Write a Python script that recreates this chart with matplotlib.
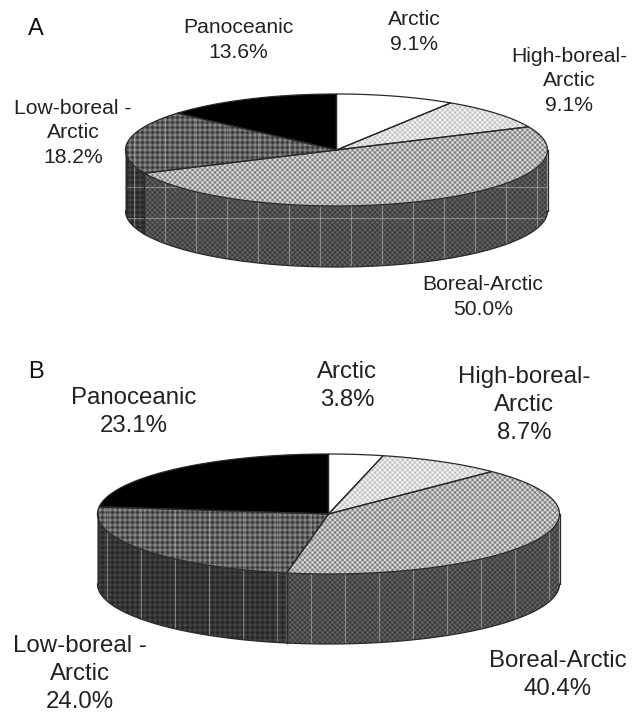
# Two 3D style pie charts drawn by hand, matplotlib has no pie with depth
import numpy as np
import matplotlib
matplotlib.use('Agg')
import matplotlib.pyplot as plt
from matplotlib.patches import Polygon

plt.rcParams['font.family'] = ['Liberation Sans', 'DejaVu Sans']

# Data
categories = ['Arctic', 'High-boreal-\nArctic', 'Boreal-Arctic', 'Low-boreal -\nArctic', 'Panoceanic']
values_a = [9.1, 9.1, 50.0, 18.2, 13.6]
values_b = [3.8, 8.7, 40.4, 24.0, 23.1]

# Label positions, in pixels
label_pos_a = [(414, 32), (569, 81), (483, 297), (73, 133), (238, 40)]
label_pos_b = [(347, 386), (524, 405), (558, 675), (80, 674), (134, 412)]

# Dither settings: mean grey, amplitude, pixels per period, kind
top_fill = [(1.0, 0.0, 5, 'c'), (0.86, 0.14, 5, 'c'), (0.68, 0.24, 5, 'c'),
            (0.38, 0.20, 5, 'g'), (0.0, 0.0, 5, 'c')]
side_fill = [(1.0, 0.0, 5, 'c'), (0.84, 0.13, 5, 'c'), (0.31, 0.10, 5, 'c'),
             (0.21, 0.08, 5, 'g'), (0.1, 0.0, 5, 'c')]

W, H = 638, 713
fig = plt.figure(figsize=(W / 100, H / 100), dpi=100)
ax = fig.add_axes([0, 0, 1, 1])
ax.set_xlim(0, W)
ax.set_ylim(H, 0)
ax.axis('off')

yy, xx = np.mgrid[0:H, 0:W] + 0.5


def dither(mean, amp, period, kind):
    # Returns a full size grey image with the screen pattern
    if kind == 'g':
        pat = (np.cos(2 * np.pi * xx / period) + np.cos(2 * np.pi * yy / period)) / 2
    else:
        pat = np.cos(2 * np.pi * xx / period) * np.cos(2 * np.pi * yy / period)
    return np.clip(mean + amp * pat, 0, 1)


def fill(poly, setting, zorder):
    im = ax.imshow(dither(*setting), cmap='gray', vmin=0, vmax=1, extent=(0, W, H, 0),
                   interpolation='bilinear', zorder=zorder, aspect='auto')
    patch = Polygon(poly, closed=True, facecolor='none', edgecolor='none', transform=ax.transData)
    ax.add_patch(patch)
    im.set_clip_path(patch)


def draw_pie(values, cx, cy, a, b, depth, grid_x, grid_y, labels_xy, size):
    edges = np.cumsum([0] + values) / sum(values) * 2 * np.pi
    edge_line = dict(color='#2a2a2a', lw=0.9, zorder=6)

    for i, val in enumerate(values):
        t = np.linspace(edges[i], edges[i + 1], 120)
        x = cx + a * np.sin(t)
        y = cy - b * np.cos(t)
        # Outer wall, only the front half of the rim shows
        t2 = np.linspace(max(edges[i], np.pi / 2), min(edges[i + 1], 3 * np.pi / 2), 120)
        if edges[i + 1] > np.pi / 2 and edges[i] < 3 * np.pi / 2:
            sx = cx + a * np.sin(t2)
            sy = cy - b * np.cos(t2)
            wall = np.column_stack([np.r_[sx, sx[::-1]], np.r_[sy, sy[::-1] + depth]])
            fill(wall, side_fill[i], 2)
            # Pale lines of the scan
            wall_patch = Polygon(wall, closed=True, facecolor='none', edgecolor='none')
            ax.add_patch(wall_patch)
            for gx in grid_x:
                ln = ax.plot([gx, gx], [cy, cy + b + depth], color='#bbbbbb', lw=0.8, alpha=0.55, zorder=3)[0]
                ln.set_clip_path(wall_patch)
            for gy in grid_y:
                ln = ax.plot([cx - a, cx + a], [gy, gy], color='#bbbbbb', lw=0.8, alpha=0.55, zorder=3)[0]
                ln.set_clip_path(wall_patch)
            ax.plot(sx, sy + depth, **edge_line)
            ax.plot([sx[0], sx[0]], [sy[0], sy[0] + depth], **edge_line)
            ax.plot([sx[-1], sx[-1]], [sy[-1], sy[-1] + depth], **edge_line)

        # Top face of the slice
        top = np.column_stack([np.r_[cx, x], np.r_[cy, y]])
        fill(top, top_fill[i], 4)
        if i == 3:
            top_patch = Polygon(top, closed=True, facecolor='none', edgecolor='none')
            ax.add_patch(top_patch)
            for gx in grid_x:
                ln = ax.plot([gx, gx], [cy - b, cy + b], color='#bbbbbb', lw=0.8, alpha=0.4, zorder=5)[0]
                ln.set_clip_path(top_patch)
        ax.plot(np.r_[cx, x, cx], np.r_[cy, y, cy], **edge_line)

        pct = categories[i] + '\n%.1f%%' % val
        ax.text(labels_xy[i][0], labels_xy[i][1], pct, ha='center', va='center', fontsize=size,
                color='#222222', linespacing=1.37, zorder=8)


draw_pie(values_a, 336.5, 150, 211, 56, 61, np.arange(134, 560, 31), [187, 218], label_pos_a, 15.2)
draw_pie(values_b, 328.5, 514, 231, 60, 70, np.arange(107, 560, 34), [], label_pos_b, 17.3)

ax.text(36, 29, 'A', ha='center', va='center', fontsize=17, color='#111111')
ax.text(36, 372, 'B', ha='center', va='center', fontsize=17, color='#111111')

plt.savefig('out.png', dpi=100, facecolor='white')
